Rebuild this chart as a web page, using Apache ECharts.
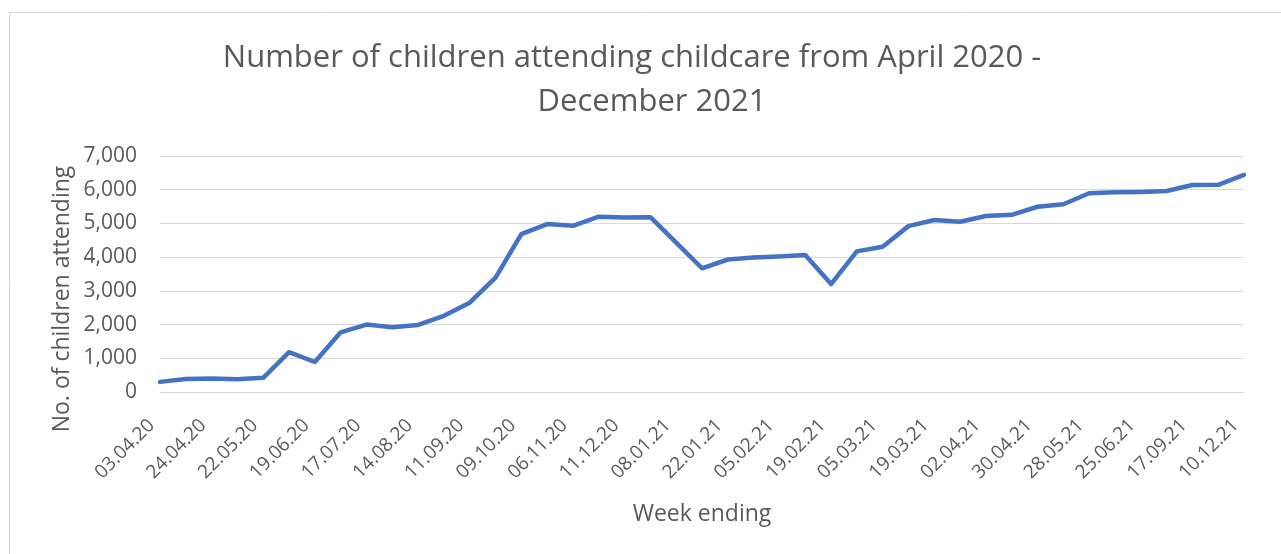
<!DOCTYPE html>
<html>
<head>
<meta charset="utf-8">
<script src="https://cdn.jsdelivr.net/npm/echarts@6/dist/echarts.min.js"></script>
<style>
html,body{margin:0;padding:0;background:#fff;}
#chart{width:1281px;height:554px;}
</style>
</head>
<body>
<div id="chart"></div>
<script>
const titleLines = ['Number of children attending childcare from April 2020 -', 'December 2021'];
const xAxisTitle = 'Week ending';
const yAxisTitle = 'No. of children attending';
const weeks = [
  '03.04.20','17.04.20','24.04.20','08.05.20','22.05.20','05.06.20','19.06.20','03.07.20',
  '17.07.20','31.07.20','14.08.20','28.08.20','11.09.20','25.09.20','09.10.20','23.10.20',
  '06.11.20','27.11.20','11.12.20','18.12.20','08.01.21','15.01.21','22.01.21','29.01.21',
  '05.02.21','12.02.21','19.02.21','26.02.21','05.03.21','12.03.21','19.03.21','26.03.21',
  '02.04.21','16.04.21','30.04.21','14.05.21','28.05.21','11.06.21','25.06.21','23.07.21',
  '17.09.21','15.10.21','10.12.21'
];
const attending = [
  300, 385, 400, 375, 420, 1180, 890, 1770,
  2000, 1920, 1990, 2260, 2650, 3390, 4680, 4980,
  4930, 5200, 5175, 5185, 4430, 3670, 3930, 3990,
  4020, 4060, 3200, 4170, 4310, 4920, 5100, 5050,
  5220, 5255, 5495, 5570, 5895, 5925, 5935, 5960,
  6140, 6145, 6440
];
const yTicks = [0, 1000, 2000, 3000, 4000, 5000, 6000, 7000];

const FONT = "'Open Sans', sans-serif";
const TXT = '#595959';

const chart = echarts.init(document.getElementById('chart'), null, {renderer: 'canvas'});
chart.setOption({
  animation: false,
  backgroundColor: '#ffffff',
  grid: {left: 160, right: 37, top: 156, bottom: 162, containLabel: false},
  graphic: [
    {type: 'rect', shape: {x: 9.5, y: 12.5, width: 1400, height: 700}, style: {fill: 'none', stroke: '#d9d9d9', lineWidth: 1}, silent: true},
    {type: 'text', x: 632, y: 58, style: {text: titleLines[0], font: "31px " + FONT, fill: TXT, align: 'center', verticalAlign: 'middle'}},
    {type: 'text', x: 652, y: 102, style: {text: titleLines[1], font: "31px " + FONT, fill: TXT, align: 'center', verticalAlign: 'middle'}},
    {type: 'text', x: 62, y: 299, rotation: Math.PI / 2, style: {text: yAxisTitle, font: "23px " + FONT, fill: TXT, align: 'center', verticalAlign: 'middle'}},
    {type: 'text', x: 702, y: 514, style: {text: xAxisTitle, font: "23px " + FONT, fill: TXT, align: 'center', verticalAlign: 'middle'}}
  ],
  xAxis: {
    type: 'category',
    data: weeks,
    boundaryGap: false,
    axisLine: {show: false},
    axisTick: {show: false},
    splitLine: {show: false},
    axisLabel: {
      interval: 1,
      rotate: 45,
      margin: 22,
      padding: [0, 12, 0, 0],
      color: TXT,
      fontFamily: FONT,
      fontSize: 19
    }
  },
  yAxis: {
    type: 'value',
    min: yTicks[0],
    max: yTicks[yTicks.length - 1],
    interval: 1000,
    axisLine: {show: false},
    axisTick: {show: false},
    splitLine: {lineStyle: {color: '#d9d9d9', width: 1}},
    axisLabel: {
      margin: 23,
      color: TXT,
      fontFamily: FONT,
      fontSize: 21,
      formatter: v => v.toLocaleString('en-US')
    }
  },
  series: [{
    type: 'line',
    data: attending,
    symbol: 'none',
    lineStyle: {color: '#4472C4', width: 4.5, cap: 'round', join: 'round'},
    itemStyle: {color: '#4472C4'}
  }]
});
</script>
</body>
</html>
